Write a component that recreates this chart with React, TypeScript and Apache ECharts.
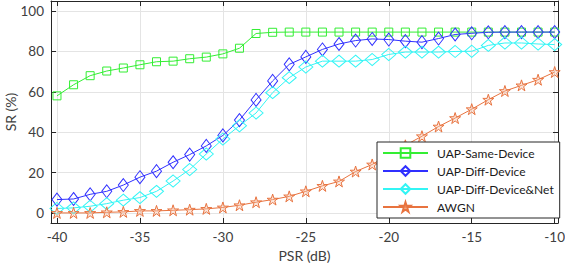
import React, { useEffect, useRef } from "react";
import * as echarts from "echarts";

const psr = [-40, -39, -38, -37, -36, -35, -34, -33, -32, -31, -30, -29, -28, -27, -26, -25, -24, -23, -22, -21, -20, -19, -18, -17, -16, -15, -14, -13, -12, -11, -10];
const sameDevice = [58, 63.5, 68, 70.3, 71.8, 73.4, 74.9, 75.2, 76.4, 77.2, 78.8, 81.6, 88.9, 89.5, 89.6, 89.6, 89.6, 89.6, 89.6, 89.6, 89.6, 89.6, 89.6, 89.6, 89.6, 89.6, 89.6, 89.6, 89.6, 89.6, 89.6];
const diffDevice = [6.6, 6.9, 9.2, 10.7, 13.8, 17.7, 20.7, 25.1, 28.9, 33.2, 38.4, 46, 56, 65.4, 73.6, 77.3, 81, 83.7, 85.4, 86.2, 85.9, 85.1, 84.6, 86.4, 88.4, 89, 89.5, 89.6, 89.6, 89.6, 89.6];
const diffDeviceNet = [2.2, 2.5, 3.3, 4.6, 6.3, 7.6, 10.7, 15.8, 21.5, 29.2, 36.6, 43.2, 49.5, 59.6, 67, 72.3, 75.2, 75.2, 75.2, 76, 78.5, 79.7, 79.7, 79.7, 80, 80.1, 83, 84.2, 84.2, 83.7, 83.4];
const awgn = [0, 0, 0, 0.3, 0.5, 1, 1, 1.3, 1.6, 2, 2.7, 3.8, 5.3, 6.6, 8.2, 10.7, 13.4, 15.6, 20.5, 24, 29, 33.5, 38, 42.8, 47, 51.4, 56.1, 60.4, 63.2, 66, 69.8];
const xTicks = [-40, -35, -30, -25, -20, -15, -10];
const yTicks = [0, 20, 40, 60, 80, 100];

const STAR = "path://M50,0 L61.8,36.2 L100,36.2 L69.1,58.8 L80.9,95.1 L50,72.6 L19.1,95.1 L30.9,58.8 L0,36.2 L38.2,36.2 Z";

const FONT = "Lato";
const AXIS = "#262626";
const TEXT = "#404040";
const X_MIN = -40.36;
const X_MAX = -9.8;

export default function App() {
  const ref = useRef<HTMLDivElement>(null);
  useEffect(() => {
    const chart = echarts.init(ref.current!, null, { renderer: "svg" });
    const mk = (name: string, data: number[], color: string, symbol: string, size: number | number[], fill: string) => ({
      name,
      type: "line",
      data: psr.map((x, i) => [x, data[i]]),
      symbol,
      symbolSize: size,
      showAllSymbol: true,
      lineStyle: { color, width: 1 },
      itemStyle: { color: fill, borderColor: color, borderWidth: 1 },
      emphasis: { disabled: true },
    });
    const box = { show: true, onZero: false, lineStyle: { color: AXIS, width: 1 } };
    chart.setOption({
      animation: false,
      textStyle: { fontFamily: FONT },
      grid: { left: 51, right: 7, top: 1, bottom: 45, containLabel: false, outerBoundsMode: "none" },
      legend: {
        left: 377,
        top: 142,
        orient: "vertical",
        itemWidth: 45,
        itemHeight: 12,
        itemGap: 6,
        padding: [5, 6, 5, 5],
        backgroundColor: "#fff",
        borderColor: AXIS,
        borderWidth: 1,
        borderRadius: 0,
        textStyle: { fontFamily: FONT, fontSize: 12, color: "#1a1a1a", padding: [0, 0, 0, 4] },
        data: ["UAP-Same-Device", "UAP-Diff-Device", "UAP-Diff-Device&Net", "AWGN"],
      },
      xAxis: [
        {
          type: "value",
          min: X_MIN,
          max: X_MAX,
          name: "PSR (dB)",
          nameLocation: "middle",
          nameGap: 25,
          nameMoveOverlap: false,
          nameTextStyle: { fontFamily: FONT, fontSize: 14, color: TEXT },
          axisLine: box,
          axisTick: { show: true, inside: true, length: 5, lineStyle: { color: AXIS }, customValues: xTicks },
          axisLabel: { customValues: xTicks, fontFamily: FONT, fontSize: 13.5, color: TEXT, margin: 7 },
          splitLine: { show: false },
        },
        {
          type: "value",
          position: "top",
          min: X_MIN,
          max: X_MAX,
          axisLine: box,
          axisTick: { show: true, inside: true, length: 5, lineStyle: { color: AXIS }, customValues: xTicks },
          axisLabel: { show: false, customValues: xTicks },
          splitLine: { show: true, lineStyle: { color: "#e4e4e4", width: 1 } },
        },
      ],
      yAxis: [
        {
          type: "value",
          min: -5,
          max: 105,
          name: "SR (%)",
          nameLocation: "middle",
          nameGap: 34,
          nameMoveOverlap: false,
          nameTextStyle: { fontFamily: FONT, fontSize: 14, color: TEXT },
          axisLine: box,
          axisTick: { show: true, inside: true, length: 5, lineStyle: { color: AXIS }, customValues: yTicks },
          axisLabel: { customValues: yTicks, fontFamily: FONT, fontSize: 13.5, color: TEXT, margin: 7 },
          splitLine: { show: true, lineStyle: { color: "#e4e4e4", width: 1 } },
        },
        {
          type: "value",
          position: "right",
          min: -5,
          max: 105,
          axisLine: box,
          axisTick: { show: true, inside: true, length: 5, lineStyle: { color: AXIS }, customValues: yTicks },
          axisLabel: { show: false, customValues: yTicks },
          splitLine: { show: false },
        },
      ],
      series: [
        mk("UAP-Same-Device", sameDevice, "#33ee33", "rect", 8, "rgba(255,255,255,0)"),
        mk("UAP-Diff-Device", diffDevice, "#3030ff", "diamond", [10, 13], "rgba(255,255,255,0)"),
        mk("UAP-Diff-Device&Net", diffDeviceNet, "#33f5f5", "diamond", [14, 12], "rgba(255,255,255,0)"),
        mk("AWGN", awgn, "#e8733f", STAR, 11, "rgba(245,190,160,0.35)"),
      ],
    });
    return () => chart.dispose();
  }, []);
  return <div ref={ref} style={{ width: 565, height: 268, position: "absolute", left: 0, top: 0, background: "#fff" }} />;
}
